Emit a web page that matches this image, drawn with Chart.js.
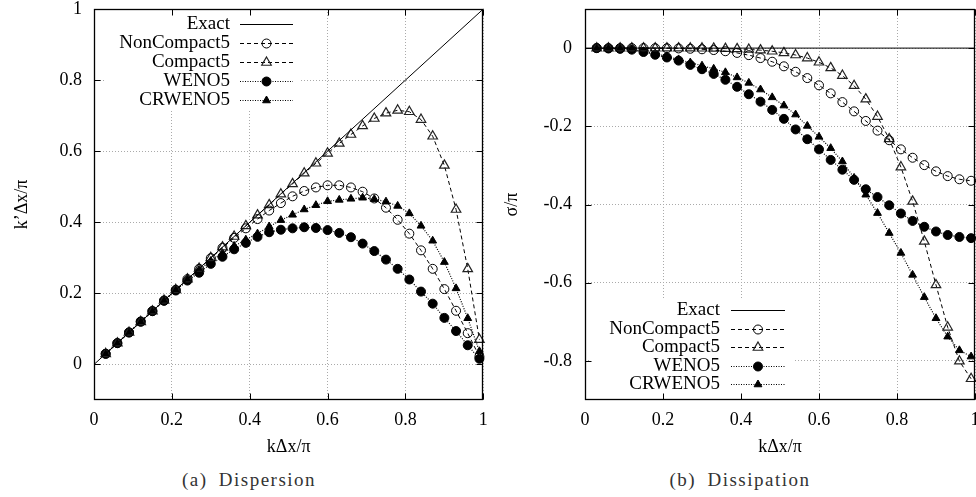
<!DOCTYPE html>
<html>
<head>
<meta charset="utf-8">
<script src="https://cdn.jsdelivr.net/npm/chart.js@4.4.0/dist/chart.umd.min.js"></script>
<style>
    html, body { margin: 0; padding: 0; background: #fff; overflow: hidden; }
    #lienzo { position: relative; width: 976px; height: 497px; overflow: hidden; }
    .caja { position: absolute; top: 0; height: 460px; }
    #caja-a { left: 0; width: 490px; }
    #caja-b { left: 490px; width: 510px; }
    .pie { position: absolute; top: 470px; line-height: 20px; font-family: "Liberation Serif", "Times New Roman", serif; font-size: 19px; color: #333; white-space: nowrap; transform: translateX(-50%); letter-spacing: 1.5px; word-spacing: 5px; }
</style>
</head>
<body>
<div id="lienzo">
    <div class="caja" id="caja-a"><canvas id="dispersion-grafica"></canvas></div>
    <div class="caja" id="caja-b"><canvas id="disipacion-grafica"></canvas></div>
    <div class="pie" style="left:249px">(a) Dispersion</div>
    <div class="pie" style="left:740px">(b) Dissipation</div>
</div>
<script>
// k dx / pi sample points
const kx = [0.03, 0.06, 0.09, 0.12, 0.15, 0.18, 0.21, 0.24, 0.27, 0.30,
    0.33, 0.36, 0.39, 0.42, 0.45, 0.48, 0.51, 0.54, 0.57, 0.60,
    0.63, 0.66, 0.69, 0.72, 0.75, 0.78, 0.81, 0.84, 0.87, 0.90,
    0.93, 0.96, 0.99];
const exactX = [0, 1];

const nombres = ['Exact', 'NonCompact5', 'Compact5', 'WENO5', 'CRWENO5'];

// (a) dispersion: k' dx / pi
const dispExact = [0, 1];
const dispNonCompact5 = [0.030, 0.060, 0.090, 0.120, 0.150, 0.180, 0.210, 0.240, 0.269, 0.299,
    0.328, 0.356, 0.383, 0.409, 0.433, 0.454, 0.473, 0.488, 0.498, 0.504,
    0.504, 0.498, 0.486, 0.467, 0.441, 0.407, 0.368, 0.321, 0.269, 0.212,
    0.151, 0.088, 0.022];
const dispCompact5 = [0.030, 0.060, 0.090, 0.120, 0.150, 0.180, 0.210, 0.240, 0.270, 0.300,
    0.330, 0.360, 0.390, 0.420, 0.449, 0.479, 0.508, 0.538, 0.566, 0.594,
    0.622, 0.647, 0.671, 0.692, 0.707, 0.715, 0.711, 0.689, 0.642, 0.560,
    0.436, 0.269, 0.070];
const dispWENO5 = [0.030, 0.060, 0.090, 0.121, 0.150, 0.179, 0.208, 0.236, 0.258, 0.283,
    0.303, 0.324, 0.342, 0.359, 0.372, 0.379, 0.383, 0.386, 0.384, 0.378,
    0.370, 0.358, 0.340, 0.319, 0.295, 0.269, 0.239, 0.205, 0.171, 0.131,
    0.094, 0.054, 0.016];
const dispCRWENO5 = [0.030, 0.060, 0.090, 0.120, 0.150, 0.180, 0.209, 0.238, 0.266, 0.291,
    0.313, 0.333, 0.351, 0.368, 0.388, 0.406, 0.421, 0.436, 0.448, 0.459,
    0.463, 0.466, 0.469, 0.465, 0.458, 0.446, 0.425, 0.390, 0.348, 0.288,
    0.214, 0.130, 0.037];

// (b) dissipation: sigma / pi
const dissExact = [0, 0];
const dissNonCompact5 = [0, 0, 0, 0, -0.0001, -0.0002, -0.0004, -0.0008, -0.0017, -0.0030,
    -0.0050, -0.0080, -0.0123, -0.0180, -0.0255, -0.0349, -0.0466, -0.0605, -0.0767, -0.0952,
    -0.1158, -0.1381, -0.1618, -0.1863, -0.2111, -0.2356, -0.2589, -0.2804, -0.2993, -0.3152,
    -0.3274, -0.3355, -0.3393];
const dissCompact5 = [0, 0, 0, 0, 0, 0, -0.0001, -0.0001, -0.0002, -0.0004,
    -0.0008, -0.0013, -0.0021, -0.0034, -0.0053, -0.0081, -0.0121, -0.0177, -0.0255, -0.0362,
    -0.0507, -0.0702, -0.0962, -0.1305, -0.1751, -0.2323, -0.3042, -0.3920, -0.4944, -0.6058,
    -0.7141, -0.8008, -0.8457];
const dissWENO5 = [0, -0.001, -0.002, -0.004, -0.010, -0.017, -0.024, -0.032, -0.043, -0.054,
    -0.066, -0.081, -0.099, -0.118, -0.137, -0.158, -0.181, -0.208, -0.233, -0.259,
    -0.286, -0.311, -0.337, -0.361, -0.381, -0.402, -0.423, -0.442, -0.457, -0.469,
    -0.478, -0.483, -0.486];
const dissCRWENO5 = [0, -0.001, -0.002, -0.004, -0.008, -0.014, -0.021, -0.029, -0.037, -0.045,
    -0.053, -0.062, -0.075, -0.089, -0.106, -0.126, -0.147, -0.170, -0.199, -0.227,
    -0.256, -0.290, -0.332, -0.375, -0.422, -0.473, -0.524, -0.580, -0.637, -0.691,
    -0.738, -0.773, -0.789];

const ticksX = [0, 0.2, 0.4, 0.6, 0.8, 1];
const dispTicksY = [0, 0.2, 0.4, 0.6, 0.8, 1];
const dissTicksY = [-0.8, -0.6, -0.4, -0.2, 0];

(() => {
    const fuente = '"Liberation Serif", "Times New Roman", serif';
    Chart.defaults.font.family = fuente;
    Chart.defaults.font.size = 18;
    Chart.defaults.color = '#000';

    const estilos = [
        { borderColor: '#000', borderWidth: 1, borderDash: [], pointRadius: 0 },
        { borderColor: '#000', borderWidth: 1, borderDash: [4, 3], pointStyle: 'circle', pointRadius: 4.5,
          pointBackgroundColor: 'rgba(0,0,0,0)', pointBorderColor: '#000', pointBorderWidth: 1 },
        { borderColor: '#000', borderWidth: 1, borderDash: [4, 3], pointStyle: 'triangle', pointRadius: 5.5,
          pointBackgroundColor: 'rgba(0,0,0,0)', pointBorderColor: '#222', pointBorderWidth: 1.2 },
        { borderColor: '#000', borderWidth: 1.2, borderDash: [1, 1.5], pointStyle: 'circle', pointRadius: 4.5,
          pointBackgroundColor: '#000', pointBorderColor: '#000', pointBorderWidth: 1 },
        { borderColor: '#000', borderWidth: 1.2, borderDash: [1, 1.5], pointStyle: 'triangle', pointRadius: 4.5,
          pointBackgroundColor: '#000', pointBorderColor: '#000', pointBorderWidth: 1 }
    ];

    const puntos = (xs, ys) => xs.map((x, i) => ({ x: x, y: ys[i] }));

    function marcador(ctx, estilo, r, x, y) {
        ctx.beginPath();
        if (estilo === 'triangle') {
            let a = 0;
            ctx.moveTo(x + Math.sin(a) * r, y - Math.cos(a) * r);
            a += 2 * Math.PI / 3;
            ctx.lineTo(x + Math.sin(a) * r, y - Math.cos(a) * r);
            a += 2 * Math.PI / 3;
            ctx.lineTo(x + Math.sin(a) * r, y - Math.cos(a) * r);
            ctx.closePath();
        } else {
            ctx.arc(x, y, r, 0, 2 * Math.PI);
        }
        ctx.fill();
        ctx.stroke();
    }

    // box with inward ticks on all four sides
    const marco = {
        id: 'marco',
        afterDraw(chart) {
            const { ctx, chartArea: a, scales } = chart;
            const L = Math.round(a.left) + 0.5, R = Math.round(a.right) - 0.5;
            const T = Math.round(a.top) + 0.5, B = Math.round(a.bottom) - 0.5;
            ctx.save();
            ctx.strokeStyle = '#000';
            ctx.lineWidth = 1.3;
            ctx.strokeRect(L, T, R - L, B - T);
            ctx.lineWidth = 1;
            ctx.beginPath();
            scales.x.ticks.forEach(t => {
                const px = Math.round(scales.x.getPixelForValue(t.value)) + 0.5;
                ctx.moveTo(px, B); ctx.lineTo(px, B - 6);
                ctx.moveTo(px, T); ctx.lineTo(px, T + 6);
            });
            scales.y.ticks.forEach(t => {
                const py = Math.round(scales.y.getPixelForValue(t.value)) + 0.5;
                ctx.moveTo(L, py); ctx.lineTo(L + 6, py);
                ctx.moveTo(R, py); ctx.lineTo(R - 6, py);
            });
            ctx.stroke();
            ctx.restore();
        }
    };

    // gnuplot-like key: right aligned names, sample on the right
    const leyenda = {
        id: 'leyenda',
        afterDatasetsDraw(chart, args, opts) {
            const { ctx } = chart;
            const b = opts.caja;
            ctx.save();
            ctx.fillStyle = '#fff';
            ctx.fillRect(b[0], b[1], b[2] - b[0], b[3] - b[1]);
            ctx.font = '19px ' + fuente;
            ctx.textAlign = 'right';
            ctx.textBaseline = 'middle';
            chart.data.datasets.forEach((ds, i) => {
                const yy = Math.round(opts.y + i * opts.dy) + 0.5;
                ctx.fillStyle = '#000';
                ctx.fillText(ds.label, opts.x, yy);
                ctx.strokeStyle = ds.borderColor;
                ctx.lineWidth = ds.borderWidth;
                ctx.setLineDash(ds.borderDash);
                ctx.beginPath();
                ctx.moveTo(opts.x0, yy);
                ctx.lineTo(opts.x1, yy);
                ctx.stroke();
                ctx.setLineDash([]);
                if (ds.pointRadius > 0) {
                    ctx.fillStyle = ds.pointBackgroundColor;
                    ctx.strokeStyle = ds.pointBorderColor;
                    ctx.lineWidth = ds.pointBorderWidth;
                    marcador(ctx, ds.pointStyle, ds.pointRadius, (opts.x0 + opts.x1) / 2, yy);
                }
            });
            ctx.restore();
        }
    };

    function crearGrafica(id, series, ticksY, minY, maxY, tituloY, cfg) {
        const ctx = document.getElementById(id).getContext('2d');
        return new Chart(ctx, {
            type: 'line',
            data: {
                datasets: series.map((s, i) => Object.assign({
                    label: nombres[i],
                    data: puntos(i === 0 ? exactX : kx, s),
                    fill: false,
                    tension: 0,
                    clip: false
                }, estilos[i]))
            },
            options: {
                responsive: true,
                maintainAspectRatio: false,
                animation: false,
                layout: { padding: { left: 0, top: 9, right: cfg.derecha, bottom: 0 } },
                scales: {
                    x: {
                        type: 'linear',
                        min: 0,
                        max: 1,
                        afterBuildTicks: escala => { escala.ticks = ticksX.map(v => ({ value: v })); },
                        afterFit: escala => {
                            escala.height = 60;
                            escala.paddingLeft = 0;
                            escala.paddingRight = 0;
                        },
                        grid: { color: '#aaa', lineWidth: 1, drawTicks: false },
                        border: { display: false, dash: [1, 2] },
                        ticks: { padding: 9, maxRotation: 0, callback: v => String(v) },
                        title: { display: true, text: 'kΔx/π', padding: { top: 0, bottom: 2 } }
                    },
                    y: {
                        type: 'linear',
                        min: minY,
                        max: maxY,
                        afterBuildTicks: escala => { escala.ticks = ticksY.map(v => ({ value: v })); },
                        afterFit: escala => {
                            escala.width = cfg.anchoY;
                            escala.paddingTop = 0;
                            escala.paddingBottom = 0;
                        },
                        grid: { color: '#aaa', lineWidth: 1, drawTicks: false },
                        border: { display: false, dash: [1, 2] },
                        ticks: { padding: cfg.padY, callback: v => String(v) },
                        title: { display: true, text: tituloY, padding: { top: 11, bottom: 0 } }
                    }
                },
                plugins: {
                    legend: { display: false },
                    tooltip: { enabled: false },
                    leyenda: cfg.leyenda
                }
            },
            plugins: [leyenda, marco]
        });
    }

    crearGrafica('dispersion-grafica',
        [dispExact, dispNonCompact5, dispCompact5, dispWENO5, dispCRWENO5],
        dispTicksY, -0.1, 1, 'k’Δx/π',
        { derecha: 6, anchoY: 94, padY: 12,
          leyenda: { x: 230, y: 24, dy: 19, x0: 240, x1: 293, caja: [105, 12, 300, 110] } });

    crearGrafica('disipacion-grafica',
        [dissExact, dissNonCompact5, dissCompact5, dissWENO5, dissCRWENO5],
        dissTicksY, -0.9, 0.1, 'σ/π',
        { derecha: 25, anchoY: 95, padY: 13,
          leyenda: { x: 230, y: 310, dy: 18.5, x0: 241, x1: 295, caja: [100, 298, 305, 396] } });
})()
</script>
</body>
</html>
